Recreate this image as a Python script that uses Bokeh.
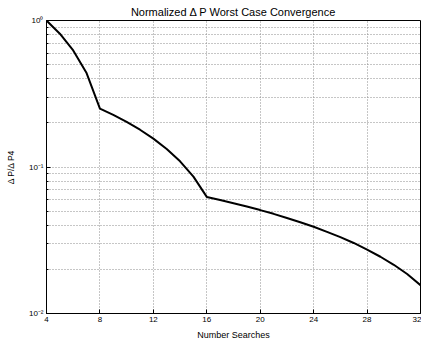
from bokeh.plotting import figure
from bokeh.models import Range1d, FixedTicker
from bokeh.embed import file_html
from bokeh.resources import INLINE

searches = list(range(4, 33))
ratio = [1.0, 0.8125, 0.625, 0.4375, 0.25,
         0.2266, 0.2031, 0.1797, 0.1563, 0.1328, 0.1094, 0.0859, 0.0625,
         0.0596, 0.0566, 0.0537, 0.0508, 0.0479, 0.0449, 0.0420, 0.0391,
         0.0361, 0.0332, 0.0303, 0.0273, 0.0244, 0.0215, 0.0186, 0.0156]
x_ticks = [4, 8, 12, 16, 20, 24, 28, 32]
y_ticks = [0.01, 0.1, 1.0]
y_minor_ticks = [0.02, 0.03, 0.04, 0.05, 0.06, 0.07, 0.08, 0.09,
                 0.2, 0.3, 0.4, 0.5, 0.6, 0.7, 0.8, 0.9]
y_tick_labels = ["10\u207b\u00b2", "10\u207b\u00b9", "10\u2070"]

FONT = "Liberation Sans"

p = figure(width=421, height=345, y_axis_type="log",
           x_range=Range1d(4, 32), y_range=Range1d(0.01, 1.0),
           output_backend="svg", toolbar_location=None,
           title="Normalized \u0394 P Worst Case Convergence",
           min_border_left=46, min_border_right=1,
           min_border_top=19, min_border_bottom=32)

p.title.align = "center"
p.title.text_font = FONT
p.title.text_font_size = "11px"
p.title.text_font_style = "normal"
p.title.text_color = "black"
p.title.standoff = 6

p.line(searches, ratio, line_color="black", line_width=2)

p.xaxis.ticker = FixedTicker(ticks=x_ticks)
p.yaxis.ticker = FixedTicker(ticks=y_ticks, minor_ticks=y_minor_ticks)
p.yaxis.major_label_overrides = {t: l for t, l in zip(y_ticks, y_tick_labels)}

for ax in (p.xaxis[0], p.yaxis[0]):
    ax.major_tick_in = 4
    ax.major_tick_out = 0
    ax.minor_tick_in = 2
    ax.minor_tick_out = 0
    ax.axis_line_color = "black"
    ax.major_tick_line_color = "black"
    ax.minor_tick_line_color = "black"
    ax.major_label_text_font = FONT
    ax.major_label_text_font_size = "8px"
    ax.major_label_text_color = "black"
    ax.axis_label_text_font = FONT
    ax.axis_label_text_font_style = "normal"
    ax.axis_label_text_color = "black"
    ax.major_label_standoff = 3

p.xaxis.axis_label = "Number Searches"
p.xaxis.axis_label_text_font_size = "9px"
p.xaxis.axis_label_standoff = 5
p.xaxis.minor_tick_line_color = None
p.yaxis.axis_label = "\u0394 P/\u0394 P4"
p.yaxis.axis_label_text_font_size = "8.5px"
p.yaxis.axis_label_standoff = 10

p.xgrid.grid_line_color = "#8c8c8c"
p.xgrid.grid_line_dash = "1 2"
p.ygrid.grid_line_color = "#8c8c8c"
p.ygrid.grid_line_dash = "1 2"
p.ygrid.minor_grid_line_color = "#8c8c8c"
p.ygrid.minor_grid_line_dash = "1 2"

p.outline_line_color = "black"
p.outline_line_width = 1
p.background_fill_color = "white"
p.border_fill_color = "white"

open("out.html", "w").write(file_html(p, INLINE))
